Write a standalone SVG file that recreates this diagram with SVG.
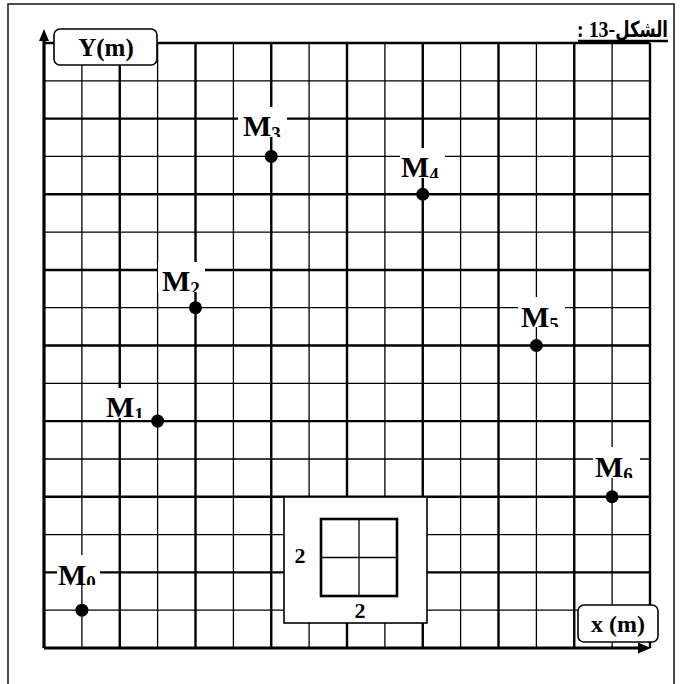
<svg xmlns="http://www.w3.org/2000/svg" width="682" height="684" viewBox="0 0 682 684">
<style>
.thin{stroke:#000;stroke-width:1.3;fill:none}
.thick{stroke:#000;stroke-width:2.4;fill:none}
.axis{stroke:#000;stroke-width:3.2;fill:none}
.lbl{font-family:"Liberation Serif","DejaVu Serif",serif;font-weight:bold;fill:#000}
.m{font-size:30px}
.sub{font-size:19px}
.wb{fill:#fff;stroke:none}
.dot{fill:#000}
.box{fill:#fff;stroke:#000;stroke-width:1.6}
.ar{font-family:"DejaVu Sans Condensed","DejaVu Sans",sans-serif;font-weight:bold;font-size:22px;fill:#000}
.num{font-family:"Liberation Serif",serif;font-weight:bold;font-size:24px}
</style>
<defs>
<clipPath id="c0" clipPathUnits="userSpaceOnUse"><rect x="57" y="555" width="43" height="30"/></clipPath>
<clipPath id="c1" clipPathUnits="userSpaceOnUse"><rect x="104" y="388" width="46" height="30"/></clipPath>
<clipPath id="c2" clipPathUnits="userSpaceOnUse"><rect x="158" y="262" width="47" height="30"/></clipPath>
<clipPath id="c3" clipPathUnits="userSpaceOnUse"><rect x="238" y="107" width="49" height="30"/></clipPath>
<clipPath id="c4" clipPathUnits="userSpaceOnUse"><rect x="400" y="148" width="45" height="30"/></clipPath>
<clipPath id="c5" clipPathUnits="userSpaceOnUse"><rect x="518" y="297" width="47" height="30"/></clipPath>
<clipPath id="c6" clipPathUnits="userSpaceOnUse"><rect x="593" y="447" width="47" height="31"/></clipPath>
</defs>
<rect x="8" y="4" width="666" height="700" fill="#fff" stroke="#222" stroke-width="1.6"/>
<g id="title">
<text class="ar" x="668" y="37" direction="rtl" textLength="91" lengthAdjust="spacingAndGlyphs">الشكل<tspan class="num">-13 :</tspan></text>
<line x1="578" y1="41" x2="668" y2="41" stroke="#000" stroke-width="2.4"/>
</g>
<g id="grid">
<path class="thin" d="M81.9 43V648M157.6 43V648M233.4 43V648M309.1 43V648M384.9 43V648M460.6 43V648M536.4 43V648M612.1 43V648
M44 80.8H650M44 156.4H650M44 232.2H650M44 307.7H650M44 383.3H650M44 459H650M44 534.6H650M44 610.2H650"/>
<path class="thick" d="M119.75 43V648M195.5 43V648M271.25 43V648M347 43V648M422.75 43V648M498.5 43V648M574.25 43V648M650 43V648
M44 43H650M44 118.6H650M44 194.25H650M44 270H650M44 345.5H650M44 421.1H650M44 496.75H650M44 572.4H650"/>
</g>
<g id="axes">
<path class="axis" d="M44 648V40M44 648H639"/>
<path d="M39 41L44 29L49 41Z" fill="#000"/>
<path d="M638 642.5L651 648L638 653.5Z" fill="#000"/>
</g>
<g id="yLabel">
<rect class="box" x="54" y="29" width="103" height="36" rx="6"/>
<text class="lbl" x="106" y="56" text-anchor="middle" style="font-size:25px">Y(m)</text>
</g>
<g id="xLabel">
<rect class="box" x="578" y="605" width="80" height="37" rx="6"/>
<text class="lbl" x="618" y="632" text-anchor="middle" style="font-size:24px">x (m)</text>
</g>
<g id="legend">
<rect x="284" y="497" width="143" height="126" fill="#fff" stroke="#000" stroke-width="1.6"/>
<rect x="321" y="519" width="76" height="77" fill="none" stroke="#000" stroke-width="2.6"/>
<path class="thin" d="M359 519V596M321 557.5H397"/>
<text class="lbl" x="300" y="563" text-anchor="middle" style="font-size:22px">2</text>
<text class="lbl" x="360" y="618" text-anchor="middle" style="font-size:22px">2</text>
</g>
<g id="M0">
<rect class="wb" x="57" y="555" width="43" height="30"/>
<text class="lbl m" x="58" y="585" clip-path="url(#c0)">M<tspan class="sub" dy="4">0</tspan></text>
<circle class="dot" cx="81.9" cy="610.2" r="6.5"/>
</g>
<g id="M1">
<rect class="wb" x="104" y="388" width="46" height="30"/>
<text class="lbl m" x="106" y="417" clip-path="url(#c1)">M<tspan class="sub" dy="4">1</tspan></text>
<circle class="dot" cx="157.6" cy="421.1" r="6.5"/>
</g>
<g id="M2">
<rect class="wb" x="158" y="262" width="47" height="30"/>
<text class="lbl m" x="162" y="291" clip-path="url(#c2)">M<tspan class="sub" dy="4">2</tspan></text>
<circle class="dot" cx="195.5" cy="307.7" r="6.5"/>
</g>
<g id="M3">
<rect class="wb" x="238" y="107" width="49" height="30"/>
<text class="lbl m" x="243" y="136" clip-path="url(#c3)">M<tspan class="sub" dy="4">3</tspan></text>
<circle class="dot" cx="271.25" cy="156.4" r="6.5"/>
</g>
<g id="M4">
<rect class="wb" x="400" y="148" width="45" height="30"/>
<text class="lbl m" x="401" y="177" clip-path="url(#c4)">M<tspan class="sub" dy="4">4</tspan></text>
<circle class="dot" cx="422.75" cy="194.25" r="6.5"/>
</g>
<g id="M5">
<rect class="wb" x="518" y="297" width="47" height="30"/>
<text class="lbl m" x="521" y="327" clip-path="url(#c5)">M<tspan class="sub" dy="4">5</tspan></text>
<circle class="dot" cx="536.4" cy="345.5" r="6.5"/>
</g>
<g id="M6">
<rect class="wb" x="593" y="447" width="47" height="31"/>
<text class="lbl m" x="595" y="477" clip-path="url(#c6)">M<tspan class="sub" dy="4">6</tspan></text>
<circle class="dot" cx="612.1" cy="496.75" r="6.5"/>
</g>
</svg>
